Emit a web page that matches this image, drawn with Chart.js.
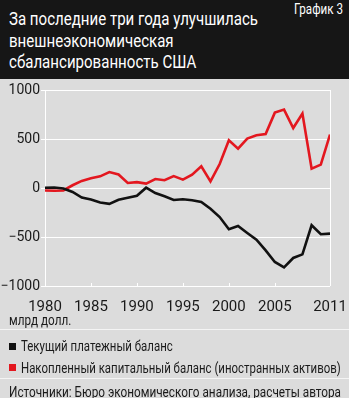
<!DOCTYPE html>
<html>
<head>
<meta charset="utf-8">
<script src="https://cdn.jsdelivr.net/npm/chart.js@4/dist/chart.umd.min.js"></script>
<style>
  body { margin: 0; }
  #page {
    position: relative; width: 349px; height: 398px; overflow: hidden;
    background: #dcdcdc;
    font-family: Roboto, "Liberation Sans", sans-serif;
    color: #1a1a1a;
  }
  #head { position: absolute; left: 0; top: 0; width: 349px; height: 79px; background: #161616; }
  .fit { position: absolute; white-space: nowrap; transform-origin: 0 0; }
  #title { left: 9px; top: 8px; color: #fff; font-size: 19px; line-height: 21.5px; }
  #num { left: 294px; top: 1px; color: #fff; font-size: 14px; }
  #box { position: absolute; left: 0; top: 80px; width: 349px; height: 236px; }
  #unit { left: 9px; top: 312px; font-size: 14px; }
  .sep { position: absolute; left: 0; width: 349px; height: 1px; background: #f4f4f4; }
  .sq { position: absolute; left: 9px; width: 7px; height: 7px; }
  .leg { left: 21px; font-size: 15px; }
  #src { left: 9px; top: 383px; font-size: 15px; }
</style>
</head>
<body>
<div id="page">
  <div id="head">
    <div id="title" class="fit" data-w="249">За последние три года улучшилась<br>внешнеэкономическая<br>сбалансированность США</div>
    <div id="num" class="fit" data-w="49">График 3</div>
  </div>
  <div id="box"><canvas id="chart"></canvas></div>
  <div id="unit" class="fit" data-w="62">млрд долл.</div>
  <div class="sep" style="top:329px"></div>
  <div class="sq" style="top:343px; background:#111"></div>
  <div class="leg fit" style="top:337px" data-w="152">Текущий платежный баланс</div>
  <div class="sq" style="top:364px; background:#e3171f"></div>
  <div class="leg fit" style="top:359px" data-w="320">Накопленный капитальный баланс (иностранных активов)</div>
  <div class="sep" style="top:378px"></div>
  <div id="src" class="fit" data-w="332">Источники: Бюро экономического анализа, расчеты автора</div>
</div>
<script>
const years = [1980, 1981, 1982, 1983, 1984, 1985, 1986, 1987, 1988, 1989, 1990,
  1991, 1992, 1993, 1994, 1995, 1996, 1997, 1998, 1999, 2000,
  2001, 2002, 2003, 2004, 2005, 2006, 2007, 2008, 2009, 2010, 2011];
const currentAccount = [2, 5, -5, -40, -97, -118, -148, -162, -121, -99, -79,
  3, -52, -85, -122, -115, -125, -142, -211, -296, -421,
  -388, -459, -527, -636, -755, -810, -714, -677, -380, -472, -466];
const capitalBalance = [-25, -28, -25, 28, 72, 99, 119, 163, 138, 51, 60,
  45, 92, 79, 122, 85, 136, 221, 68, 245, 487,
  402, 504, 538, 551, 769, 800, 612, 759, 198, 239, 545];
const xTicks = [1980, 1985, 1990, 1995, 2000, 2005, 2011];
const yMin = -1000, yMax = 1000, yStep = 500;

const seriesNames = ['Текущий платежный баланс', 'Накопленный капитальный баланс (иностранных активов)'];
const fontFamily = 'Roboto, "Liberation Sans", sans-serif';

// squeeze the html captions to the narrow width of the original type
document.querySelectorAll('.fit').forEach(function (el) {
  let w = el.scrollWidth;
  if (el.id === 'title') {
    // fit on the first line only
    const probe = document.createElement('span');
    probe.textContent = 'За последние три года улучшилась';
    probe.style.cssText = 'position:absolute;visibility:hidden;white-space:nowrap;font:inherit';
    el.appendChild(probe);
    w = probe.getBoundingClientRect().width;
    el.removeChild(probe);
  }
  el.style.transform = 'scaleX(' + (parseFloat(el.dataset.w) / w) + ')';
});

// small upward ticks on the bottom axis
const innerTicks = {
  id: 'innerTicks',
  afterDraw(chart) {
    const ctx = chart.ctx, x = chart.scales.x, y = chart.scales.y;
    const base = y.getPixelForValue(yMin);
    ctx.save();
    ctx.strokeStyle = '#ffffff';
    ctx.lineWidth = 1;
    xTicks.forEach(function (t) {
      const px = Math.round(x.getPixelForValue(t)) + 0.5;
      ctx.beginPath();
      ctx.moveTo(px, base);
      ctx.lineTo(px, base - 3);
      ctx.stroke();
    });
    ctx.restore();
  }
};

new Chart(document.getElementById('chart'), {
  type: 'line',
  data: {
    labels: years,
    datasets: [
      {
        label: seriesNames[0],
        data: years.map((yr, i) => ({ x: yr, y: currentAccount[i] })),
        borderColor: '#111111',
        borderWidth: 2.6,
        pointRadius: 0,
        tension: 0
      },
      {
        label: seriesNames[1],
        data: years.map((yr, i) => ({ x: yr, y: capitalBalance[i] })),
        borderColor: '#e3171f',
        borderWidth: 2.6,
        pointRadius: 0,
        tension: 0
      }
    ]
  },
  options: {
    responsive: true,
    maintainAspectRatio: false,
    animation: false,
    layout: { padding: { top: 10, right: 19, left: 0, bottom: 0 } },
    plugins: { legend: { display: false }, tooltip: { enabled: false } },
    scales: {
      x: {
        type: 'linear',
        min: 1980,
        max: 2011,
        afterBuildTicks: function (scale) {
          scale.ticks = xTicks.map(v => ({ value: v }));
        },
        afterFit: function (scale) {
          scale.height = 30;
          scale.paddingLeft = 0;
          scale.paddingRight = 0;
        },
        border: { display: false },
        grid: {
          drawTicks: false,
          color: ctx => (ctx.tick && ctx.tick.value === 2011) ? '#ffffff' : 'rgba(0,0,0,0)',
          lineWidth: 1
        },
        ticks: {
          autoSkip: false,
          maxRotation: 0,
          padding: 12,
          color: '#1a1a1a',
          font: { family: fontFamily, size: 15 },
          callback: v => String(v)
        }
      },
      y: {
        min: yMin,
        max: yMax,
        afterFit: function (scale) { scale.width = 45; },
        border: { display: true, color: '#ffffff', width: 1 },
        grid: { color: '#ffffff', lineWidth: 1, tickLength: 4 },
        ticks: {
          stepSize: yStep,
          padding: 1,
          color: '#1a1a1a',
          font: { family: fontFamily, size: 14 },
          callback: v => (v < 0 ? '\u2212' + Math.abs(v) : String(v))
        }
      }
    }
  },
  plugins: [innerTicks]
});
</script>
</body>
</html>
